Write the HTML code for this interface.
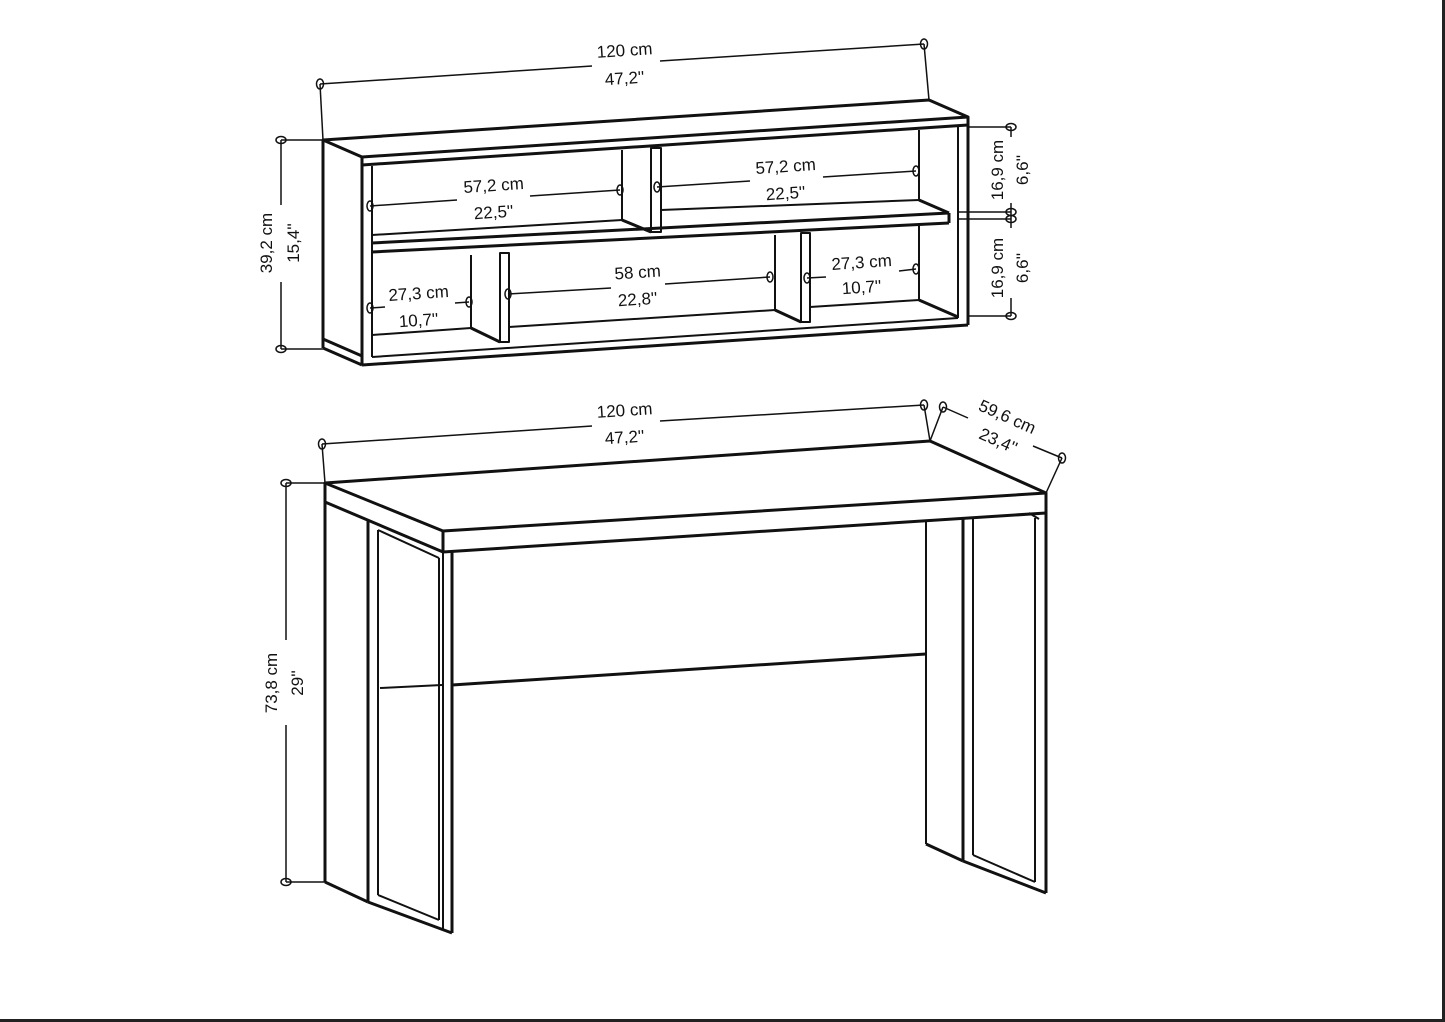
<!DOCTYPE html>
<html><head><meta charset="utf-8"><style>
html,body{margin:0;padding:0;background:#fff;}
svg{display:block;}
text{font-family:"Liberation Sans Narrow","Liberation Sans",sans-serif;font-size:17px;fill:#111;text-anchor:middle;}
</style></head><body>
<svg width="1445" height="1022" viewBox="0 0 1445 1022" xmlns="http://www.w3.org/2000/svg">
<rect x="0" y="0" width="1445" height="1022" fill="#fff"/>
<line x1="0" y1="1020.5" x2="1445" y2="1020.5" stroke="#222" stroke-width="3"/>
<line x1="1443.5" y1="0" x2="1443.5" y2="1022" stroke="#222" stroke-width="3"/>

<g fill="none" stroke="#111" stroke-width="3" stroke-linejoin="round">
<!-- SHELF -->
<polygon points="323,140 929,100 968,117 362,157"/>
<line x1="362" y1="165" x2="968" y2="125"/>
<line x1="362" y1="157" x2="362" y2="365"/>
<line x1="323" y1="140" x2="323" y2="348"/>
<line x1="323" y1="348" x2="362" y2="365"/>
<line x1="323" y1="339" x2="362" y2="356"/>
<line x1="362" y1="365" x2="968" y2="325"/>
<line x1="968" y1="117" x2="968" y2="325"/>
<line x1="958" y1="127" x2="958" y2="318" stroke-width="2"/>
<line x1="372" y1="166" x2="372" y2="357" stroke-width="2"/>
<line x1="372" y1="357" x2="958" y2="318" stroke-width="2"/>
<!-- middle shelf -->
<line x1="372" y1="235" x2="622" y2="220" stroke-width="2"/>
<line x1="661" y1="210" x2="919" y2="200" stroke-width="2"/>
<line x1="919" y1="200" x2="949" y2="213"/>
<line x1="372" y1="243" x2="949" y2="213"/>
<line x1="372" y1="252" x2="949" y2="223"/>
<line x1="949" y1="213" x2="949" y2="223"/>
<line x1="919" y1="130" x2="919" y2="200" stroke-width="2"/>
<!-- upper divider -->
<line x1="622" y1="150" x2="622" y2="220" stroke-width="2"/>
<line x1="622" y1="220" x2="651" y2="232"/>
<rect x="651" y="148" width="10" height="84" stroke-width="2"/>
<!-- lower left -->
<line x1="372" y1="335" x2="471" y2="328" stroke-width="2"/>
<line x1="471" y1="255" x2="471" y2="328" stroke-width="2"/>
<line x1="471" y1="328" x2="500" y2="342"/>
<rect x="500" y="253" width="9" height="89" stroke-width="2"/>
<line x1="509" y1="327" x2="775" y2="310" stroke-width="2"/>
<line x1="775" y1="235" x2="775" y2="310" stroke-width="2"/>
<line x1="775" y1="310" x2="801" y2="322"/>
<rect x="801" y="233" width="9" height="89" stroke-width="2"/>
<line x1="810" y1="307" x2="919" y2="300" stroke-width="2"/>
<line x1="919" y1="225" x2="919" y2="300" stroke-width="2"/>
<line x1="919" y1="300" x2="958" y2="317"/>

<!-- DESK -->
<polygon points="325,483 930,441 1046,493 443,531"/>
<line x1="325" y1="483" x2="325" y2="502"/>
<line x1="443" y1="531" x2="443" y2="552"/>
<line x1="1046" y1="493" x2="1046" y2="513"/>
<line x1="443" y1="552" x2="1046" y2="513"/>
<line x1="325" y1="502" x2="443" y2="552"/>
<!-- left leg -->
<line x1="325" y1="502" x2="325" y2="882"/>
<line x1="325" y1="882" x2="368" y2="902"/>
<line x1="368" y1="521" x2="368" y2="902"/>
<line x1="368" y1="902" x2="452" y2="933"/>
<line x1="452" y1="552" x2="452" y2="933"/>
<line x1="443" y1="552" x2="443" y2="930" stroke-width="2"/>
<line x1="378" y1="530" x2="378" y2="895" stroke-width="2"/>
<line x1="378" y1="530" x2="439" y2="558" stroke-width="2"/>
<line x1="439" y1="558" x2="439" y2="920" stroke-width="2"/>
<line x1="378" y1="895" x2="439" y2="920" stroke-width="2"/>
<line x1="380" y1="688" x2="442" y2="685" stroke-width="2"/>
<!-- modesty panel -->
<line x1="452" y1="685" x2="926" y2="654"/>
<line x1="926" y1="522" x2="926" y2="844" stroke-width="2"/>
<!-- right leg -->
<line x1="926" y1="844" x2="963" y2="861"/>
<line x1="963" y1="518" x2="963" y2="861"/>
<line x1="973" y1="518" x2="973" y2="855" stroke-width="2"/>
<line x1="973" y1="855" x2="1035" y2="882" stroke-width="2"/>
<line x1="1035" y1="518" x2="1035" y2="882" stroke-width="2"/>
<line x1="1029" y1="513" x2="1039" y2="519" stroke-width="2"/>
<line x1="963" y1="861" x2="1046" y2="893"/>
<line x1="1046" y1="513" x2="1046" y2="893"/>
</g>

<!-- DIMENSIONS -->
<g fill="none" stroke="#111" stroke-width="1.5">
<!-- shelf top -->
<line x1="320" y1="84" x2="323" y2="140"/>
<line x1="924" y1="44" x2="929" y2="100"/>
<line x1="320" y1="84" x2="592" y2="66"/>
<line x1="660" y1="61" x2="924" y2="44"/>
<ellipse cx="320" cy="84" rx="3.5" ry="5"/><ellipse cx="924" cy="44" rx="3.5" ry="5"/>
<!-- shelf left -->
<line x1="281" y1="140" x2="323" y2="140"/>
<line x1="281" y1="349" x2="323" y2="349"/>
<line x1="281" y1="140" x2="281" y2="205"/>
<line x1="281" y1="282" x2="281" y2="349"/>
<ellipse cx="281" cy="140" rx="5" ry="3.5"/><ellipse cx="281" cy="349" rx="5" ry="3.5"/>
<!-- shelf right -->
<line x1="968" y1="127" x2="1011" y2="127"/>
<line x1="958" y1="212" x2="1011" y2="212"/>
<line x1="958" y1="219" x2="1011" y2="219"/>
<line x1="968" y1="316" x2="1011" y2="316"/>
<line x1="1011" y1="127" x2="1011" y2="137"/>
<line x1="1011" y1="203" x2="1011" y2="228"/>
<line x1="1011" y1="298" x2="1011" y2="316"/>
<ellipse cx="1011" cy="127" rx="5" ry="3.5"/><ellipse cx="1011" cy="212" rx="5" ry="3.5"/>
<ellipse cx="1011" cy="219" rx="5" ry="3.5"/><ellipse cx="1011" cy="316" rx="5" ry="3.5"/>
<!-- inner -->
<line x1="370" y1="206" x2="457" y2="200"/><line x1="530" y1="196" x2="620" y2="190"/>
<ellipse cx="370" cy="206" rx="3" ry="5"/><ellipse cx="620" cy="190" rx="3" ry="5"/>
<line x1="657" y1="187" x2="750" y2="181"/><line x1="823" y1="177" x2="916" y2="171"/>
<ellipse cx="657" cy="187" rx="3" ry="5"/><ellipse cx="916" cy="171" rx="3" ry="5"/>
<line x1="370" y1="308" x2="385" y2="307"/><line x1="455" y1="303" x2="469" y2="302"/>
<ellipse cx="370" cy="308" rx="3" ry="5"/><ellipse cx="469" cy="302" rx="3" ry="5"/>
<line x1="508" y1="294" x2="611" y2="288"/><line x1="665" y1="284" x2="770" y2="277"/>
<ellipse cx="508" cy="294" rx="3" ry="5"/><ellipse cx="770" cy="277" rx="3" ry="5"/>
<line x1="807" y1="278" x2="826" y2="277"/><line x1="899" y1="271" x2="916" y2="269"/>
<ellipse cx="807" cy="278" rx="3" ry="5"/><ellipse cx="916" cy="269" rx="3" ry="5"/>
<!-- desk top -->
<line x1="322" y1="444" x2="325" y2="483"/>
<line x1="924" y1="405" x2="930" y2="441"/>
<line x1="322" y1="444" x2="592" y2="426"/>
<line x1="660" y1="421" x2="924" y2="405"/>
<ellipse cx="322" cy="444" rx="3.5" ry="5"/><ellipse cx="924" cy="405" rx="3.5" ry="5"/>
<!-- depth -->
<line x1="943" y1="407" x2="930" y2="441"/>
<line x1="1062" y1="458" x2="1046" y2="493"/>
<line x1="943" y1="407" x2="968" y2="418"/>
<line x1="1033" y1="446" x2="1062" y2="458"/>
<ellipse cx="943" cy="407" rx="3.5" ry="5"/><ellipse cx="1062" cy="458" rx="3.5" ry="5"/>
<!-- desk left -->
<line x1="286" y1="483" x2="325" y2="483"/>
<line x1="286" y1="882" x2="325" y2="882"/>
<line x1="286" y1="483" x2="286" y2="640"/>
<line x1="286" y1="725" x2="286" y2="882"/>
<ellipse cx="286" cy="483" rx="5" ry="3.5"/><ellipse cx="286" cy="882" rx="5" ry="3.5"/>
</g>

<g>
<text x="625" y="56" transform="rotate(-3.8 625 56)">120 cm</text>
<text x="625" y="84" transform="rotate(-3.8 625 84)">47,2''</text>
<text x="625" y="416" transform="rotate(-3.8 625 416)">120 cm</text>
<text x="625" y="443" transform="rotate(-3.8 625 443)">47,2''</text>
<text x="494" y="191" transform="rotate(-3.8 494 191)">57,2 cm</text>
<text x="494" y="218" transform="rotate(-3.8 494 218)">22,5''</text>
<text x="786" y="172" transform="rotate(-3.8 786 172)">57,2 cm</text>
<text x="786" y="199" transform="rotate(-3.8 786 199)">22,5''</text>
<text x="419" y="299" transform="rotate(-3.8 419 299)">27,3 cm</text>
<text x="419" y="326" transform="rotate(-3.8 419 326)">10,7''</text>
<text x="638" y="278" transform="rotate(-3.8 638 278)">58 cm</text>
<text x="638" y="305" transform="rotate(-3.8 638 305)">22,8''</text>
<text x="862" y="268" transform="rotate(-3.8 862 268)">27,3 cm</text>
<text x="862" y="293" transform="rotate(-3.8 862 293)">10,7''</text>
<text x="1005" y="422" transform="rotate(24 1005 422)">59,6 cm</text>
<text x="996" y="446" transform="rotate(24 996 446)">23,4''</text>
<text x="272" y="243" transform="rotate(-90 272 243)">39,2 cm</text>
<text x="299" y="243" transform="rotate(-90 299 243)">15,4''</text>
<text x="277" y="683" transform="rotate(-90 277 683)">73,8 cm</text>
<text x="303" y="683" transform="rotate(-90 303 683)">29''</text>
<text x="1003" y="170" transform="rotate(-90 1003 170)">16,9 cm</text>
<text x="1028" y="170" transform="rotate(-90 1028 170)">6,6''</text>
<text x="1003" y="268" transform="rotate(-90 1003 268)">16,9 cm</text>
<text x="1028" y="268" transform="rotate(-90 1028 268)">6,6''</text>
</g>
</svg>
</body></html>
